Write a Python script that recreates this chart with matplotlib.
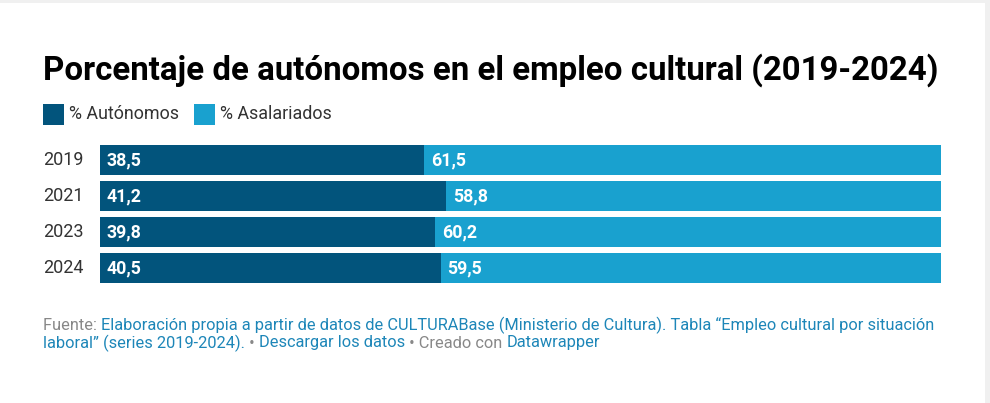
import matplotlib
matplotlib.use("Agg")
import matplotlib.pyplot as plt
from matplotlib import font_manager

years = ["2019", "2021", "2023", "2024"]
autonomos = [38.5, 41.2, 39.8, 40.5]
asalariados = [61.5, 58.8, 60.2, 59.5]
series_names = ["% Autónomos", "% Asalariados"]

title = "Porcentaje de autónomos en el empleo cultural (2019-2024)"
footer_line1 = [
    ("Fuente: ", "grey"),
    ("Elaboración propia a partir de datos de CULTURABase (Ministerio de Cultura). Tabla \u201cEmpleo cultural por situación", "link"),
]
footer_line2 = [
    ("laboral\u201d (series 2019-2024).", "link"),
    (" \u2022 ", "grey"),
    ("Descargar los datos", "link"),
    (" \u2022 Creado con ", "grey"),
    ("Datawrapper", "link"),
]

DARK = "#02547c"
LIGHT = "#19a1cf"
W, H = 990, 403

names = {f.name for f in font_manager.fontManager.ttflist}
narrow = "Liberation Sans Narrow" if "Liberation Sans Narrow" in names else "Roboto"
plt.rcParams["font.family"] = ["Roboto", "DejaVu Sans"]

fig = plt.figure(figsize=(W / 100, H / 100), dpi=100)
fig.patch.set_facecolor("white")

# thin grey frame strips on top/right like the screenshot
fig.add_artist(plt.Rectangle((0, 1 - 3 / H), 1, 3 / H, transform=fig.transFigure,
                             color="#f0f0f0", lw=0))
fig.add_artist(plt.Rectangle((1 - 5 / W, 0), 5 / W, 1, transform=fig.transFigure,
                             color="#f0f0f0", lw=0))

def fx(px):
    return px / W

def fy(py):
    return 1 - py / H

# title
fig.text(fx(43), fy(70), title, fontsize=23.8, fontweight="bold",
         color="#000000", va="center", ha="left")

# legend
for i, (name, col) in enumerate(zip(series_names, [DARK, LIGHT])):
    x0 = [43, 194][i]
    fig.add_artist(plt.Rectangle((fx(x0), fy(125)), fx(21), 21 / H,
                                 transform=fig.transFigure, color=col, lw=0))
    fig.text(fx(x0 + 26), fy(114), name, fontsize=12.9, color="#333333",
             va="center", ha="left")

# bars
ax = fig.add_axes([fx(100), fy(283), fx(941 - 100), (283 - 145) / H])
pos = list(range(len(years)))
bh = 30 / 36
ax.barh(pos, autonomos, height=bh, color=DARK, lw=0)
ax.barh(pos, asalariados, left=autonomos, height=bh, color=LIGHT, lw=0)
ax.set_xlim(0, 100)
ax.set_ylim(len(years) - 1 + 15 / 36, -15 / 36)
ax.axis("off")

for p, a, s, yr in zip(pos, autonomos, asalariados, years):
    ax.annotate(f"{a:.1f}".replace(".", ","), (0, p), xytext=(5, 0),
                textcoords="offset points", va="center", ha="left",
                color="white", fontsize=12.8, fontweight="bold")
    ax.annotate(f"{s:.1f}".replace(".", ","), (a, p), xytext=(5, 0),
                textcoords="offset points", va="center", ha="left",
                color="white", fontsize=12.8, fontweight="bold")
    ax.annotate(yr, (0, p), xytext=(-57 * 0.72, 0), textcoords="offset points",
                va="center", ha="left", color="#333333", fontsize=13)

# footer with mixed colours
colors = {"grey": "#888888", "link": "#1d86b8"}
fig.canvas.draw()
renderer = fig.canvas.get_renderer()
for line, ypx in [(footer_line1, 325), (footer_line2, 343)]:
    x = fx(43)
    for txt, c in line:
        t = fig.text(x, fy(ypx), txt, fontsize=11.75, family=[narrow, "DejaVu Sans"],
                     color=colors[c], va="center", ha="left")
        bb = t.get_window_extent(renderer=renderer)
        x += bb.width / W

fig.savefig("out.png", dpi=100, facecolor="white")
